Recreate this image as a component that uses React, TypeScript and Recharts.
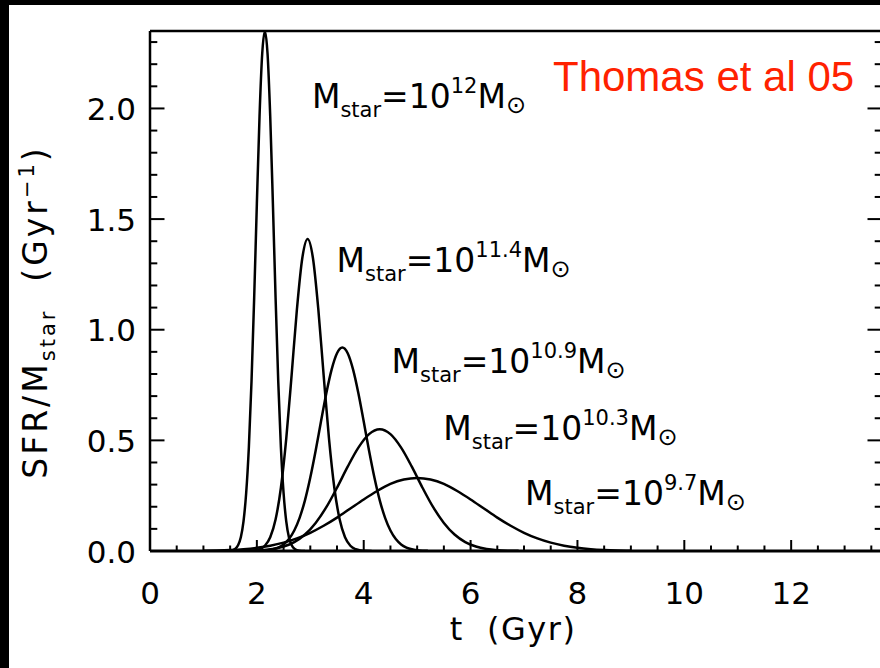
import React from 'react';
import { LineChart, Line, XAxis, YAxis, ReferenceDot } from 'recharts';

// SFR/Mstar (1/Gyr) against t (Gyr), one pair per galaxy mass
const t12 = [1.40, 1.45, 1.50, 1.55, 1.60, 1.65, 1.70, 1.75, 1.80, 1.85, 1.90, 1.95, 2.00, 2.05, 2.10, 2.15,
    2.20, 2.25, 2.30, 2.35, 2.40, 2.45, 2.50, 2.55, 2.60, 2.65, 2.70, 2.75, 2.80, 2.85, 2.90];
const sfr12 = [0, 0.0004, 0.0012, 0.0037, 0.0104, 0.027, 0.062, 0.134, 0.262, 0.468, 0.767, 1.147, 1.570, 1.965, 2.247, 2.35,
    2.247, 1.965, 1.570, 1.147, 0.767, 0.468, 0.262, 0.134, 0.062, 0.027, 0.0104, 0.0037, 0.0012, 0.0004, 0];

const t114 = [1.75, 1.85, 1.95, 2.05, 2.15, 2.25, 2.35, 2.45, 2.55, 2.65, 2.75, 2.85, 2.95,
    3.05, 3.15, 3.25, 3.35, 3.45, 3.55, 3.65, 3.75, 3.85, 3.95, 4.05, 4.15];
const sfr114 = [0, 0.0006, 0.0024, 0.0081, 0.0238, 0.062, 0.142, 0.286, 0.508, 0.794, 1.093, 1.323, 1.41,
    1.323, 1.093, 0.794, 0.508, 0.286, 0.142, 0.062, 0.0238, 0.0081, 0.0024, 0.0006, 0];

const t109 = [2.0, 2.1, 2.2, 2.3, 2.4, 2.5, 2.6, 2.7, 2.8, 2.9, 3.0, 3.1, 3.2, 3.3, 3.4, 3.5, 3.6,
    3.7, 3.8, 3.9, 4.0, 4.1, 4.2, 4.3, 4.4, 4.5, 4.6, 4.7, 4.8, 4.9, 5.0, 5.1, 5.2];
const sfr109 = [0.0006, 0.0016, 0.0036, 0.0076, 0.0155, 0.0298, 0.054, 0.0927, 0.150, 0.229, 0.332, 0.453, 0.585, 0.713, 0.821, 0.894, 0.92,
    0.894, 0.821, 0.713, 0.585, 0.453, 0.332, 0.229, 0.150, 0.0927, 0.054, 0.0298, 0.0155, 0.0076, 0.0036, 0.0016, 0.0006];

const t103 = [1.7, 1.9, 2.1, 2.3, 2.5, 2.7, 2.9, 3.1, 3.3, 3.5, 3.7, 3.9, 4.1, 4.3,
    4.5, 4.7, 4.9, 5.1, 5.3, 5.5, 5.7, 5.9, 6.1, 6.3, 6.5, 6.7, 6.9];
const sfr103 = [0.0006, 0.0015, 0.0039, 0.0093, 0.0202, 0.0404, 0.0744, 0.127, 0.198, 0.286, 0.381, 0.467, 0.528, 0.55,
    0.528, 0.467, 0.381, 0.286, 0.198, 0.127, 0.0744, 0.0404, 0.0202, 0.0093, 0.0039, 0.0015, 0.0006];

const t97 = [1.0, 1.25, 1.5, 1.75, 2.0, 2.25, 2.5, 2.75, 3.0, 3.25, 3.5, 3.75, 4.0, 4.25, 4.5, 4.75, 5.0,
    5.25, 5.5, 5.75, 6.0, 6.25, 6.5, 6.75, 7.0, 7.25, 7.5, 7.75, 8.0, 8.25, 8.5, 8.75, 9.0];
const sfr97 = [0.0013, 0.0025, 0.0047, 0.0084, 0.0145, 0.0239, 0.0377, 0.0569, 0.0823, 0.114, 0.151, 0.192, 0.233, 0.271, 0.303, 0.323, 0.33,
    0.323, 0.303, 0.271, 0.233, 0.192, 0.151, 0.114, 0.0823, 0.0569, 0.0377, 0.0239, 0.0145, 0.0084, 0.0047, 0.0025, 0.0013];

// curve labels: exponent of the stellar mass and where the label sits (t, SFR)
const massExps = ['12', '11.4', '10.9', '10.3', '9.7'];
const labelT = [3.03, 3.49, 4.52, 5.49, 7.02];
const labelV = [2.0, 1.262, 0.803, 0.50, 0.208];

const xLabels = [0, 2, 4, 6, 8, 10, 12];
const yLabels = [0, 0.5, 1.0, 1.5, 2.0];
const xTicks = Array.from({ length: 28 }, (_, i) => i * 0.5);
const yTicks = Array.from({ length: 24 }, (_, i) => i / 10);

const X_MAX = 13.7;
const Y_MAX = 2.35;
const FONT = "'DejaVu Sans', sans-serif";

const series = [
    { t: t12, v: sfr12 },
    { t: t114, v: sfr114 },
    { t: t109, v: sfr109 },
    { t: t103, v: sfr103 },
    { t: t97, v: sfr97 },
].map((s) => s.t.map((t, i) => ({ t, v: s.v[i] })));

const isXMajor = (v: number) => xLabels.some((l) => Math.abs(l - v) < 1e-6);
const isYMajor = (v: number) => yLabels.some((l) => Math.abs(l - v) < 1e-6);

// all ticks point into the plot, like IDL
const BottomTick = (p: any) => {
    const { x, y, payload } = p;
    const major = isXMajor(payload.value);
    return (
        <g>
            <line x1={x} x2={x} y1={y} y2={y - (major ? 11 : 5.5)} stroke="#000" strokeWidth={2} />
            {major && (
                <text x={x} y={y + 53} textAnchor="middle" fontFamily={FONT} fontSize={31} fill="#000">{payload.value}</text>
            )}
        </g>
    );
};

const TopTick = (p: any) => {
    const { x, y, payload } = p;
    const major = isXMajor(payload.value);
    return <line x1={x} x2={x} y1={y} y2={y + (major ? 11 : 5.5)} stroke="#000" strokeWidth={2} />;
};

const LeftTick = (p: any) => {
    const { x, y, payload } = p;
    const major = isYMajor(payload.value);
    return (
        <g>
            <line x1={x} x2={x + (major ? 14.5 : 7.3)} y1={y} y2={y} stroke="#000" strokeWidth={2} />
            {major && (
                <text x={x - 14} y={y + 11.5} textAnchor="end" fontFamily={FONT} fontSize={31} fill="#000">{payload.value.toFixed(1)}</text>
            )}
        </g>
    );
};

const RightTick = (p: any) => {
    const { x, y, payload } = p;
    const major = isYMajor(payload.value);
    return <line x1={x} x2={x - (major ? 14.5 : 7.3)} y1={y} y2={y} stroke="#000" strokeWidth={2} />;
};

const MassLabel: React.FC<{ cx: number; cy: number; exp: string }> = ({ cx, cy, exp }) => (
    <text x={cx} y={cy} fontFamily={FONT} fontSize={33} fill="#000">
        M
        <tspan fontSize={21} dy={9}>star</tspan>
        <tspan dy={-9}>=10</tspan>
        <tspan fontSize={21} dy={-15}>{exp}</tspan>
        <tspan dy={15}>M</tspan>
        <tspan fontSize={24} dy={5}>⊙</tspan>
    </text>
);

export default function App() {
    return (
        <div style={{ position: 'absolute', left: 0, top: 0, width: 880, height: 668, background: '#000', overflow: 'hidden' }}>
            <div style={{ position: 'absolute', left: 9, top: 5, right: 0, bottom: 0, background: '#fff' }} />
            <div style={{ position: 'absolute', left: 0, top: 0 }}>
                <LineChart width={882} height={668} margin={{ top: 31, right: 0, bottom: 57, left: 0 }}>
                    <XAxis dataKey="t" type="number" domain={[0, X_MAX]} allowDataOverflow ticks={xTicks} interval={0}
                        height={60} tickSize={0} tickMargin={0} tickLine={false} tick={BottomTick}
                        axisLine={{ stroke: '#000', strokeWidth: 3 }} />
                    <XAxis xAxisId="top" orientation="top" mirror type="number" domain={[0, X_MAX]} allowDataOverflow
                        ticks={xTicks} interval={0} tickSize={0} tickMargin={0} tickLine={false} tick={TopTick}
                        axisLine={{ stroke: '#000', strokeWidth: 2.5 }} />
                    <YAxis type="number" domain={[0, Y_MAX]} allowDataOverflow ticks={yTicks} interval={0}
                        width={150} tickSize={0} tickMargin={0} tickLine={false} tick={LeftTick}
                        axisLine={{ stroke: '#000', strokeWidth: 2.5 }} />
                    <YAxis yAxisId="right" orientation="right" mirror type="number" domain={[0, Y_MAX]} allowDataOverflow
                        ticks={yTicks} interval={0} tickSize={0} tickMargin={0} tickLine={false} tick={RightTick}
                        axisLine={{ stroke: '#000', strokeWidth: 2.5 }} />
                    {series.map((data, i) => (
                        <Line key={i} data={data} dataKey="v" type="monotone" stroke="#000" strokeWidth={2.5}
                            dot={false} activeDot={false} isAnimationActive={false} />
                    ))}
                    {massExps.map((exp, i) => (
                        <ReferenceDot key={exp} x={labelT[i]} y={labelV[i]} r={1} ifOverflow="visible"
                            shape={(p: any) => <MassLabel cx={p.cx} cy={p.cy} exp={exp} />} />
                    ))}
                </LineChart>
            </div>
            <svg width={880} height={668} style={{ position: 'absolute', left: 0, top: 0, pointerEvents: 'none' }}>
                <text x={553} y={91} fontFamily="'Liberation Sans', Arial, sans-serif" fontSize={42} fill="#ff2200">Thomas et al 05</text>
                <text x={513} y={640} textAnchor="middle" fontFamily={FONT} fontSize={32} letterSpacing={1.5} fill="#000">{'t\u00a0\u00a0(Gyr)'}</text>
                <text transform="translate(47, 312) rotate(-90)" textAnchor="middle" fontFamily={FONT} fontSize={33}
                    letterSpacing={3} fill="#000">
                    SFR/M
                    <tspan fontSize={21} dy={8}>star</tspan>
                    <tspan dy={-8}>{'\u00a0\u00a0(Gyr'}</tspan>
                    <tspan fontSize={21} dy={-13}>{'\u22121'}</tspan>
                    <tspan dy={13}>)</tspan>
                </text>
            </svg>
        </div>
    );
}
